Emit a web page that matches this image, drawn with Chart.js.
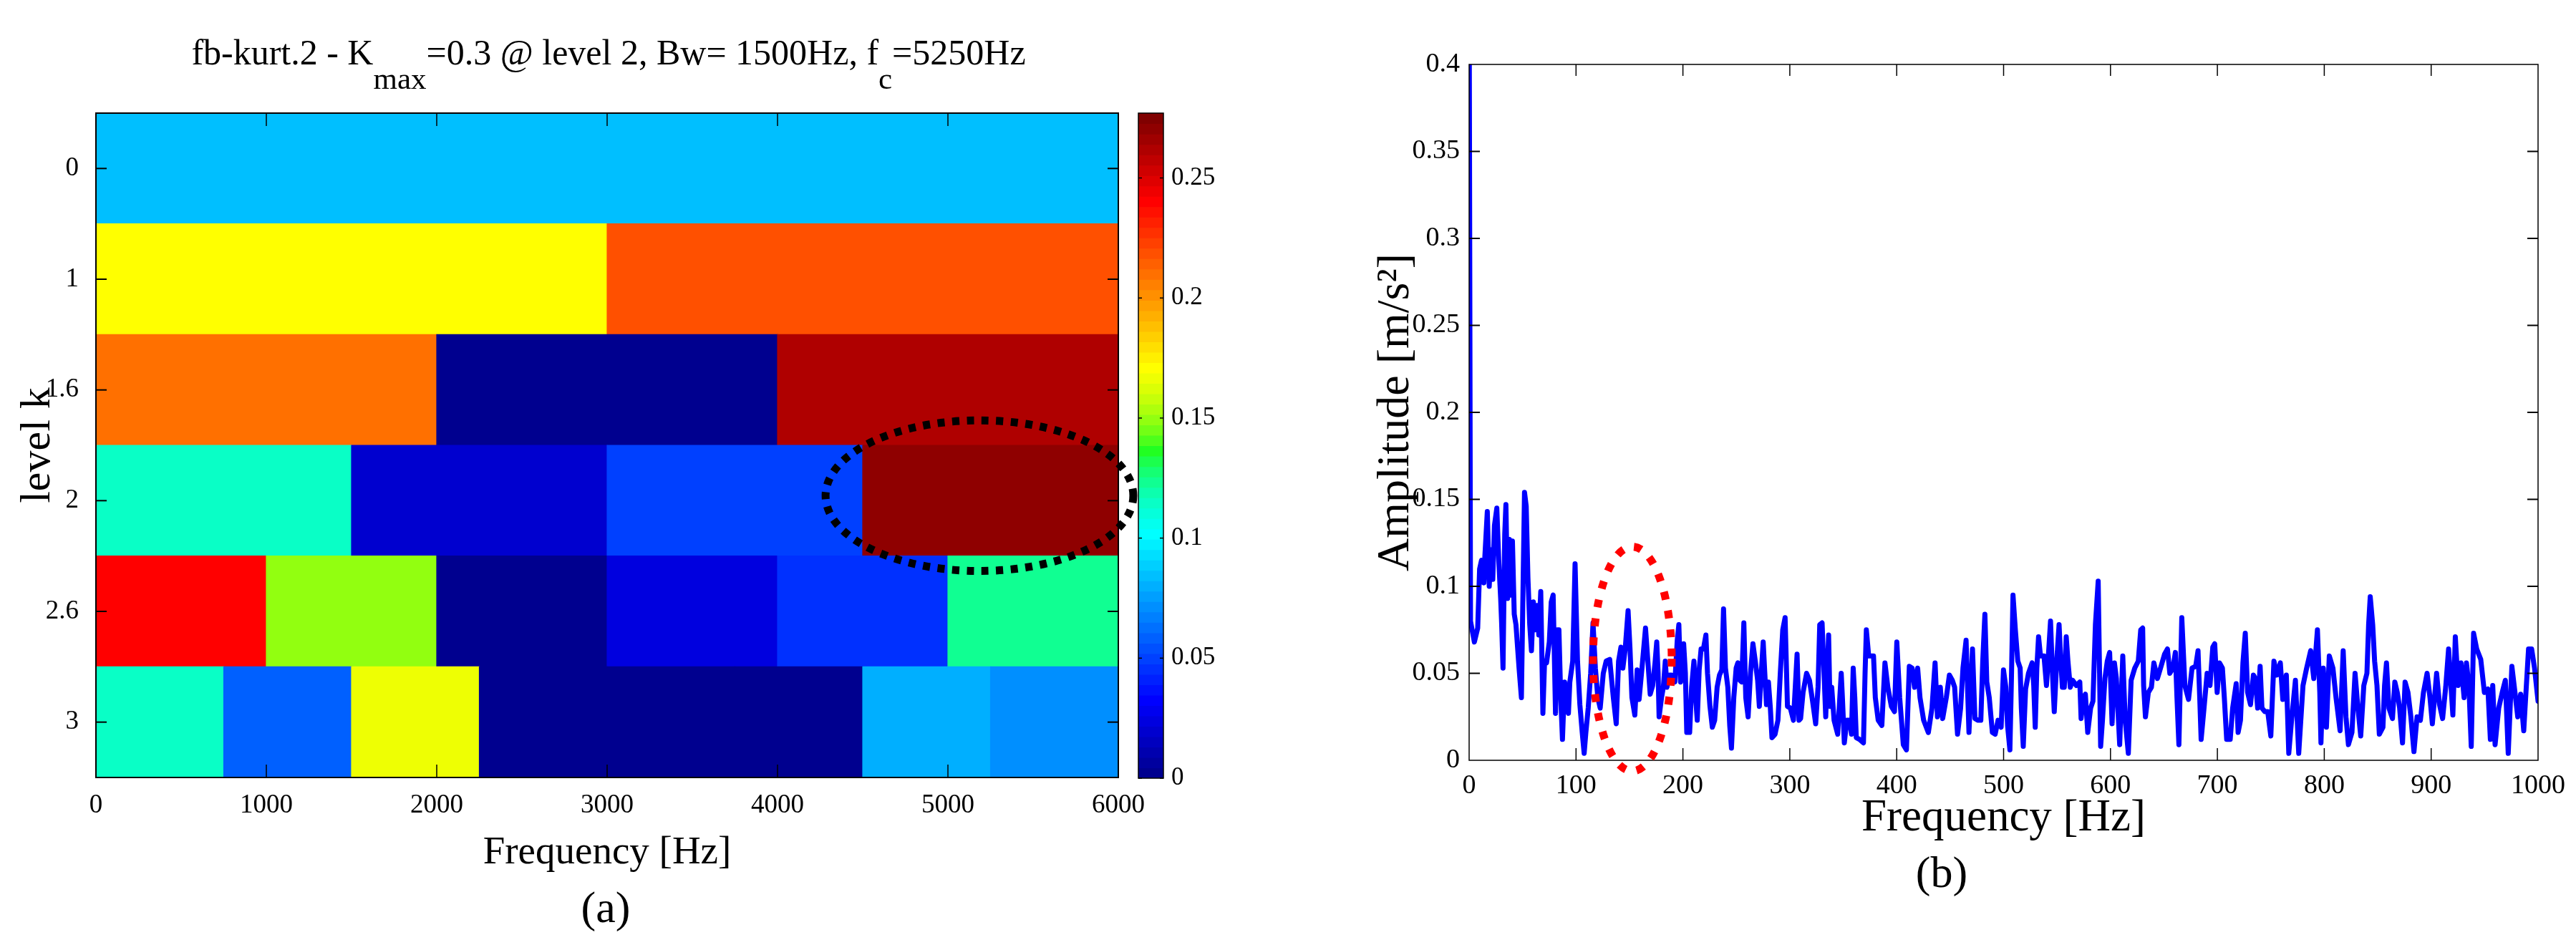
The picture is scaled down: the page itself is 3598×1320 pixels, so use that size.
<!DOCTYPE html>
<html>
<head>
<meta charset="utf-8">
<script src="https://cdn.jsdelivr.net/npm/chart.js@4.4.1/dist/chart.umd.min.js"></script>
<style>
html,body{margin:0;padding:0;background:#fff;width:3598px;height:1320px;overflow:hidden;}
canvas{position:absolute;top:0;}
#cA{left:0;}
#cBar{left:1560px;}
#cB{left:1800px;}
</style>
</head>
<body>
<canvas id="cA" width="1800" height="1320"></canvas>
<canvas id="cBar" width="240" height="1320"></canvas>
<canvas id="cB" width="1798" height="1320"></canvas>
<script>
// ---------------- (a) kurtogram data ----------------
const levels = ['0', '1', '1.6', '2', '2.6', '3'];
const freqTicksA = [0, 1000, 2000, 3000, 4000, 5000, 6000];
const edges0  = [0, 6000];
const edges1  = [0, 3000, 6000];
const edges16 = [0, 2000, 4000, 6000];
const edges2  = [0, 1500, 3000, 4500, 6000];
const edges26 = [0, 1000, 2000, 3000, 4000, 5000, 6000];
const edges3  = [0, 750, 1500, 2250, 3000, 3750, 4500, 5250, 6000];
const kurt0  = [0.0844];
const kurt1  = [0.1710, 0.2186];
const kurt16 = [0.2099, 0.0022, 0.2618];
const kurt2  = [0.1147, 0.0195, 0.0498, 0.2705];
const kurt26 = [0.2402, 0.1493, 0.0022, 0.0238, 0.0454, 0.1233];
const kurt3  = [0.1140, 0.0584, 0.1666, 0.0022, 0.0030, 0.0035, 0.0801, 0.0714];
const cbMax = 0.277;
const cbTicks = [0, 0.05, 0.1, 0.15, 0.2, 0.25];
const markA = {f: 5185, df: 903, lev: 2.955, dlev: 0.68};

// ---------------- (b) spectrum data ----------------
const freqTicksB = [0, 100, 200, 300, 400, 500, 600, 700, 800, 900, 1000];
const ampTicks = [0, 0.05, 0.1, 0.15, 0.2, 0.25, 0.3, 0.35, 0.4];
const specFreq = [
0,1.3,4.9,8.0,9.8,11.6,13.8,14.7,17.0,18.8,20.5,22.1,23.7,25.9,27.7,29.5,30.4,31.7,33.3,34.4,36.0,37.7,39.0,40.5,42.2,43.8,46.7,48.9,50.5,51.8,53.4,55.0,56.7,58.3,60.1,61.6,63.4,65.2,67.0,69.0,70.6,72.4,75.0,76.8,78.6,80.8,82.4,84.0,85.7,87.3,89.3,90.9,92.9,94.2,96.9,99.1,101.4,103.6,105.8,107.6,109.2,111.4,113.7,115.9,118.1,120.4,122.6,125.5,128.2,131.5,134.9,137.6,139.8,142.0,143.8,146.0,148.7,150.5,152.3,155.0,157.2,159.0,161.7,165.0,
169.4,171.7,173.9,175.5,176.8,177.7,180.0,181.7,183.5,185.1,187.3,189.5,192.5,194.7,196.2,197.8,199.1,200.7,202.3,203.6,206.3,208.1,210.3,211.9,213.4,215.2,217.0,219.2,221.5,223.0,225.3,227.5,229.7,232.0,234.2,236.4,238.0,239.8,242.0,243.8,245.4,247.6,249.8,251.4,253.2,255.0,257.0,258.8,261.0,263.2,265.5,267.7,269.9,271.5,273.3,275.1,276.6,278.2,280.0,281.8,283.3,286.2,288.9,291.1,293.4,295.6,297.8,300.5,303.4,306.8,308.6,310.1,312.4,315.7,318.4,321.3,324.2,326.4,328.0,330.2,
333.6,336.3,337.6,339.2,341.4,344.8,348.1,349.2,351.0,353.3,355.9,357.7,359.3,360.8,362.2,365.3,368.9,370.4,371.6,373.8,376.0,378.3,380.0,382.7,386.1,389.0,391.7,395.0,397.9,400.1,402.8,406.2,409.1,411.8,414.4,416.7,419.6,421.8,425.2,429.6,433.0,435.9,438.1,440.8,443.0,446.4,449.3,452.0,454.2,456.9,459.8,462.0,464.9,467.6,470.9,473.2,476.1,478.7,480.5,482.5,484.3,486.6,489.5,492.1,494.8,497.7,
499.9,502.1,503.7,505.9,507.3,508.8,511.0,513.3,515.5,516.6,518.4,520.6,523.3,526.7,528.2,529.6,531.1,532.7,534.5,537.8,540.1,541.6,543.9,545.7,547.4,549.7,551.9,553.5,555.0,556.8,558.6,560.2,562.4,564.6,568.0,571.3,572.5,574.7,576.5,578.7,581.4,583.6,585.9,588.5,590.8,592.5,594.8,597.0,599.2,601.5,603.7,605.5,608.6,611.5,613.8,616.7,619.3,622.7,626.0,628.3,630.1,631.0,632.7,635.4,638.3,640.6,643.9,647.3,650.6,653.3,655.5,658.4,660.7,662.2,664.0,666.7,
669.6,673.0,676.3,679.7,681.9,683.5,684.8,687.5,690.4,693.1,695.7,697.5,699.8,702.0,704.7,706.5,708.7,712.0,714.3,717.6,719.4,721.6,723.9,726.1,728.3,731.0,733.7,735.5,737.7,740.0,741.7,744.4,747.1,750.0,752.9,755.6,758.9,761.2,764.5,766.8,769.4,773.0,776.1,780.1,783.5,787.3,790.2,793.6,795.8,796.9,799.1,802.0,804.7,808.1,811.0,814.8,817.7,820.3,822.6,825.9,828.8,831.5,
834.1,837.0,839.9,841.5,843.0,845.3,847.1,849.3,851.5,854.9,856.4,858.2,860.5,863.8,866.0,868.3,870.5,873.2,875.6,878.3,881.0,883.9,886.8,889.9,892.8,896.2,898.9,901.1,905.1,907.8,910.7,913.6,916.3,918.5,920.3,922.6,925.2,927.9,930.8,933.0,935.3,937.5,939.7,942.6,946.4,949.8,953.1,955.4,957.6,959.8,963.2,966.5,969.4,972.1,975.5,978.4,981.0,983.7,986.6,988.2,991.1,994.0,996.7,1000
];
const specAmp = [
0.45,0.080,0.068,0.076,0.110,0.115,0.102,0.117,0.143,0.100,0.121,0.104,0.135,0.145,0.115,0.093,0.079,0.053,0.130,0.147,0.093,0.127,0.095,0.126,0.084,0.078,0.053,0.036,0.102,0.154,0.146,0.105,0.078,0.063,0.091,0.075,0.089,0.072,0.097,0.027,0.057,0.056,0.068,0.091,0.095,0.027,0.075,0.075,0.036,0.012,0.045,0.039,0.027,0.045,0.057,0.113,0.057,0.032,0.016,0.004,0.016,0.030,0.050,0.079,0.053,0.036,0.030,0.050,0.057,0.058,0.036,0.021,0.057,0.065,0.053,0.064,0.086,0.064,0.036,0.026,0.052,0.035,0.053,0.076,
0.038,0.043,0.056,0.068,0.050,0.025,0.036,0.042,0.057,0.042,0.049,0.049,0.045,0.069,0.078,0.045,0.053,0.067,0.050,0.016,0.016,0.042,0.057,0.036,0.023,0.052,0.064,0.064,0.072,0.050,0.031,0.019,0.023,0.042,0.049,0.052,0.087,0.053,0.042,0.020,0.007,0.036,0.053,0.056,0.046,0.045,0.079,0.036,0.025,0.050,0.067,0.057,0.046,0.031,0.050,0.068,0.050,0.032,0.045,0.030,0.013,0.015,0.023,0.050,0.075,0.082,0.031,0.030,0.023,0.061,0.023,0.024,0.039,0.050,0.046,0.034,0.021,0.042,0.078,0.079,
0.025,0.072,0.031,0.042,0.023,0.015,0.050,0.036,0.010,0.023,0.023,0.015,0.053,0.036,0.013,0.012,0.010,0.050,0.075,0.060,0.060,0.060,0.036,0.023,0.020,0.056,0.042,0.031,0.028,0.068,0.036,0.009,0.006,0.054,0.053,0.042,0.053,0.036,0.023,0.016,0.030,0.056,0.025,0.042,0.024,0.036,0.049,0.046,0.042,0.015,0.030,0.053,0.069,0.016,0.064,0.024,0.023,0.023,0.057,0.084,0.045,0.036,0.016,0.015,0.023,0.019,
0.052,0.042,0.020,0.006,0.046,0.095,0.075,0.057,0.053,0.030,0.008,0.041,0.050,0.056,0.043,0.019,0.053,0.071,0.060,0.060,0.043,0.057,0.080,0.050,0.028,0.057,0.078,0.057,0.042,0.042,0.071,0.057,0.042,0.046,0.043,0.045,0.024,0.036,0.038,0.016,0.030,0.034,0.078,0.103,0.008,0.023,0.047,0.057,0.062,0.021,0.056,0.047,0.009,0.060,0.023,0.004,0.046,0.053,0.057,0.075,0.076,0.043,0.025,0.039,0.042,0.056,0.047,0.054,0.061,0.064,0.050,0.053,0.062,0.036,0.009,0.082,
0.043,0.035,0.053,0.054,0.063,0.036,0.012,0.030,0.050,0.043,0.065,0.067,0.039,0.056,0.053,0.036,0.012,0.012,0.030,0.044,0.016,0.023,0.056,0.073,0.039,0.032,0.049,0.047,0.030,0.054,0.030,0.028,0.028,0.014,0.057,0.049,0.056,0.035,0.049,0.004,0.023,0.046,0.004,0.043,0.053,0.063,0.047,0.075,0.039,0.010,0.053,0.019,0.060,0.053,0.036,0.017,0.063,0.025,0.009,0.016,0.050,0.030,
0.014,0.043,0.050,0.078,0.094,0.078,0.057,0.043,0.015,0.019,0.043,0.056,0.030,0.024,0.045,0.039,0.030,0.010,0.045,0.039,0.025,0.005,0.025,0.023,0.039,0.050,0.036,0.021,0.050,0.032,0.024,0.042,0.064,0.043,0.026,0.071,0.043,0.056,0.036,0.056,0.043,0.008,0.073,0.064,0.058,0.039,0.041,0.012,0.043,0.009,0.030,0.039,0.046,0.004,0.054,0.039,0.025,0.038,0.017,0.034,0.064,0.064,0.053,0.034
];
const markB = {f: 152.7, df: 36.8, a: 0.0583, da: 0.0645};

// ---------------- helpers ----------------
const SERIF = "'Liberation Serif', 'Times New Roman', serif";
function jetColor(I) { // I: 1..64, MATLAB jet(64), slightly saturated
  const u = j => (j < 1 || j > 47) ? 0 : (j <= 16 ? j / 16 : (j <= 31 ? 1 : (48 - j) / 16));
  let r = u(I - 24), g = u(I - 8), b = u(I + 8);
  const mx = Math.max(r, g, b);
  const m = Math.min(r, g, b) * 0.85;
  const s = mx / (mx - m);
  r = (r - m) * s; g = (g - m) * s; b = (b - m) * s;
  return `rgb(${Math.round(r * 255)},${Math.round(g * 255)},${Math.round(b * 255)})`;
}
function colorFor(v) {
  const I = Math.min(64, Math.floor(v / cbMax * 64) + 1);
  return jetColor(I);
}
function fixTicks(arr) { return scale => { scale.ticks = arr.map(v => ({value: v})); }; }
function tickLine(ctx, x1, y1, x2, y2) { ctx.beginPath(); ctx.moveTo(x1, y1); ctx.lineTo(x2, y2); ctx.stroke(); }

// ---------------- (a) heatmap ----------------
const rowsA = [
  {lab: '0', e: edges0, v: kurt0}, {lab: '1', e: edges1, v: kurt1}, {lab: '1.6', e: edges16, v: kurt16},
  {lab: '2', e: edges2, v: kurt2}, {lab: '2.6', e: edges26, v: kurt26}, {lab: '3', e: edges3, v: kurt3}
];
const cells = [], cellColors = [];
rowsA.forEach(r => r.v.forEach((val, i) => {
  cells.push({y: r.lab, x: [r.e[i], r.e[i + 1]]});
  cellColors.push(colorFor(val));
}));

const plugA = {
  id: 'plugA',
  afterDatasetsDraw(chart) {
    const {ctx, chartArea: a, scales: {x, y}} = chart;
    ctx.save();
    const cx = x.getPixelForValue(markA.f), rx = x.getPixelForValue(markA.f + markA.df) - cx;
    const cy = y.getPixelForValue(markA.lev), ry = Math.abs(y.getPixelForValue(markA.lev + markA.dlev) - cy);
    ctx.strokeStyle = '#000'; ctx.lineWidth = 11; ctx.setLineDash([10, 10.5]);
    ctx.beginPath(); ctx.ellipse(cx, cy, rx, ry, 0, 0, Math.PI * 2); ctx.stroke();
    ctx.setLineDash([]);
    ctx.lineWidth = 2;
    ctx.strokeRect(a.left, a.top, a.right - a.left, a.bottom - a.top);
    ctx.lineWidth = 1.5;
    freqTicksA.slice(1, -1).forEach(v => {
      const px = x.getPixelForValue(v);
      tickLine(ctx, px, a.bottom, px, a.bottom - 18);
      tickLine(ctx, px, a.top, px, a.top + 18);
    });
    ctx.lineWidth = 2;
    levels.forEach((l, i) => {
      const py = y.getPixelForValue(i);
      tickLine(ctx, a.left, py, a.left + 15, py);
      tickLine(ctx, a.right, py, a.right - 15, py);
    });
    ctx.restore();
  },
  afterDraw(chart) {
    const ctx = chart.ctx;
    ctx.save();
    ctx.fillStyle = '#000';
    ctx.textBaseline = 'alphabetic';
    const parts = [
      {t: 'fb-kurt.2 - K', s: false}, {t: 'max', s: true},
      {t: '=0.3 @ level 2, Bw= 1500Hz, f', s: false}, {t: 'c', s: true}, {t: '=5250Hz', s: false}
    ];
    const fMain = '50px ' + SERIF, fSub = '43px ' + SERIF;
    let tot = 0;
    parts.forEach(p => { ctx.font = p.s ? fSub : fMain; p.w = ctx.measureText(p.t).width; tot += p.w; });
    let xx = 850 - tot / 2;
    parts.forEach(p => { ctx.font = p.s ? fSub : fMain; ctx.fillText(p.t, xx, p.s ? 124 : 90); xx += p.w; });
    ctx.font = '62px ' + SERIF;
    ctx.textAlign = 'center';
    ctx.fillText('(a)', 846, 1288);
    ctx.restore();
  }
};

new Chart(document.getElementById('cA'), {
  type: 'bar',
  data: {
    labels: levels,
    datasets: [{
      data: cells, backgroundColor: cellColors, borderWidth: 0,
      barPercentage: 1, categoryPercentage: 1, inflateAmount: 0.6
    }]
  },
  options: {
    indexAxis: 'y', responsive: false, animation: false, devicePixelRatio: 1, events: [],
    layout: {padding: {left: 0, top: 158, right: 238, bottom: 0}},
    plugins: {legend: {display: false}, tooltip: {enabled: false}, title: {display: false}},
    scales: {
      x: {
        type: 'linear', min: 0, max: 6000,
        afterBuildTicks: fixTicks(freqTicksA),
        afterFit: s => { s.height = 234; },
        grid: {display: false}, border: {display: false},
        ticks: {color: '#000', font: {family: SERIF, size: 37}, padding: 9, maxRotation: 0, autoSkip: false, callback: v => String(v)},
        title: {display: true, text: 'Frequency [Hz]', color: '#000', font: {family: SERIF, size: 55}, padding: {top: 0, bottom: 95}}
      },
      y: {
        type: 'category',
        afterFit: s => { s.width = 134; },
        grid: {display: false}, border: {display: false},
        ticks: {color: '#000', font: {family: SERIF, size: 37}, padding: 16},
        title: {display: true, text: 'level k', color: '#000', font: {family: SERIF, size: 60}, padding: {top: 17, bottom: 0}}
      }
    }
  },
  plugins: [plugA]
});

// ---------------- colorbar ----------------
const cbData = [], cbColors = [];
for (let k = 0; k < 64; k++) {
  cbData.push({x: 'cb', y: [k * cbMax / 64, (k + 1) * cbMax / 64]});
  cbColors.push(jetColor(k + 1));
}
const plugBar = {
  id: 'plugBar',
  afterDatasetsDraw(chart) {
    const {ctx, chartArea: a, scales: {y}} = chart;
    ctx.save();
    ctx.strokeStyle = '#000'; ctx.lineWidth = 1.5;
    ctx.strokeRect(a.left, a.top, a.right - a.left, a.bottom - a.top);
    cbTicks.forEach(v => {
      const py = y.getPixelForValue(v);
      tickLine(ctx, a.left, py, a.left + 5, py);
      tickLine(ctx, a.right, py, a.right - 5, py);
    });
    ctx.restore();
  }
};
new Chart(document.getElementById('cBar'), {
  type: 'bar',
  data: {labels: ['cb'], datasets: [{data: cbData, backgroundColor: cbColors, borderWidth: 0, barPercentage: 1, categoryPercentage: 1, inflateAmount: 0.6}]},
  options: {
    responsive: false, animation: false, devicePixelRatio: 1, events: [],
    layout: {padding: {left: 30, top: 158, right: 0, bottom: 233}},
    plugins: {legend: {display: false}, tooltip: {enabled: false}},
    scales: {
      x: {type: 'category', display: false},
      y: {
        type: 'linear', position: 'right', min: 0, max: cbMax,
        afterBuildTicks: fixTicks(cbTicks),
        afterFit: s => { s.width = 175; },
        grid: {display: false}, border: {display: false},
        ticks: {color: '#000', font: {family: SERIF, size: 35}, padding: 3, callback: v => String(v)}
      }
    }
  },
  plugins: [plugBar]
});

// ---------------- (b) spectrum ----------------
const plugB = {
  id: 'plugB',
  afterDatasetsDraw(chart) {
    const {ctx, chartArea: a, scales: {x, y}} = chart;
    ctx.save();
    ctx.strokeStyle = '#000'; ctx.lineWidth = 1.5;
    ctx.strokeRect(a.left, a.top, a.right - a.left, a.bottom - a.top);
    freqTicksB.slice(1, -1).forEach(v => {
      const px = x.getPixelForValue(v);
      tickLine(ctx, px, a.bottom, px, a.bottom - 17);
      tickLine(ctx, px, a.top, px, a.top + 16);
    });
    ctx.lineWidth = 2;
    ampTicks.slice(1, -1).forEach(v => {
      const py = y.getPixelForValue(v);
      tickLine(ctx, a.left, py, a.left + 15, py);
      tickLine(ctx, a.right, py, a.right - 15, py);
    });
    const cx = x.getPixelForValue(markB.f), rx = x.getPixelForValue(markB.f + markB.df) - cx;
    const cy = y.getPixelForValue(markB.a), ry = cy - y.getPixelForValue(markB.a + markB.da);
    ctx.strokeStyle = '#ff0000'; ctx.lineWidth = 11; ctx.setLineDash([11, 15.5]);
    ctx.beginPath(); ctx.ellipse(cx, cy, rx, ry, 0, 0, Math.PI * 2); ctx.stroke();
    ctx.restore();
  },
  afterDraw(chart) {
    const ctx = chart.ctx;
    ctx.save();
    ctx.fillStyle = '#000'; ctx.textAlign = 'center'; ctx.textBaseline = 'alphabetic';
    ctx.font = '62px ' + SERIF;
    ctx.fillText('(b)', 912, 1239);
    ctx.restore();
  }
};

new Chart(document.getElementById('cB'), {
  type: 'line',
  data: {
    datasets: [{
      data: specFreq.map((f, i) => ({x: f, y: specAmp[i]})),
      borderColor: '#0000ff', borderWidth: 7, pointRadius: 0, tension: 0, fill: false,
      borderJoinStyle: 'round', borderCapStyle: 'round'
    }]
  },
  options: {
    responsive: false, animation: false, devicePixelRatio: 1, events: [],
    layout: {padding: {left: 0, top: 90, right: 53, bottom: 0}},
    plugins: {legend: {display: false}, tooltip: {enabled: false}},
    scales: {
      x: {
        type: 'linear', min: 0, max: 1000,
        afterBuildTicks: fixTicks(freqTicksB),
        afterFit: s => { s.height = 258; },
        grid: {display: false}, border: {display: false},
        ticks: {color: '#000', font: {family: SERIF, size: 38}, padding: 5, maxRotation: 0, autoSkip: false, callback: v => String(v)},
        title: {display: true, text: 'Frequency [Hz]', color: '#000', font: {family: SERIF, size: 63}, padding: {top: 0, bottom: 139}}
      },
      y: {
        type: 'linear', min: 0, max: 0.4,
        afterBuildTicks: fixTicks(ampTicks),
        afterFit: s => { s.width = 252; },
        grid: {display: false}, border: {display: false},
        ticks: {color: '#000', font: {family: SERIF, size: 38}, padding: 5, callback: v => String(v)},
        title: {display: true, text: 'Amplitude [m/s\u00B2]', color: '#000', font: {family: SERIF, size: 64}, padding: {top: 111.6, bottom: 0}}
      }
    }
  },
  plugins: [plugB]
});
</script>
</body>
</html>
